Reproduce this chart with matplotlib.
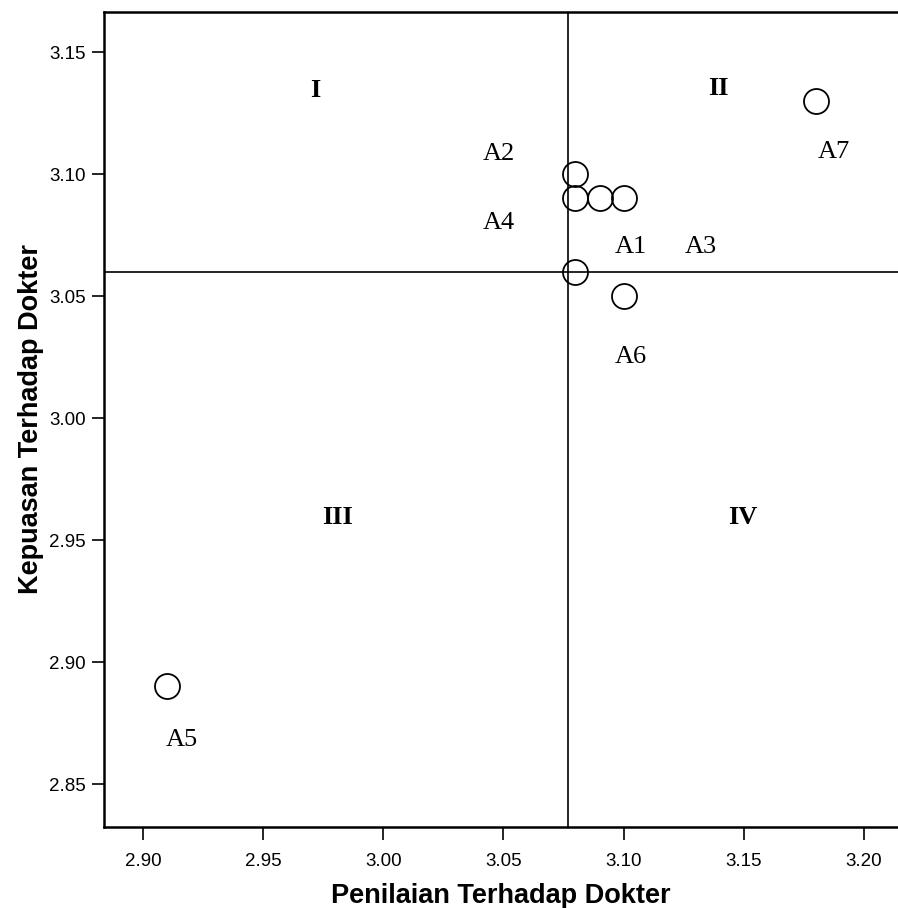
import numpy as np
import matplotlib.pyplot as plt

# points (Penilaian, Kepuasan)
px = [3.08, 3.08, 3.09, 3.10, 3.08, 3.10, 3.18, 2.91]
py = [3.10, 3.09, 3.09, 3.09, 3.06, 3.05, 3.13, 2.89]

# labels and where they sit
labels = ['A2', 'A4', 'A1', 'A3', 'A6', 'A7', 'A5']
label_x = [3.048, 3.048, 3.103, 3.132, 3.103, 3.1875, 2.916]
label_y = [3.108, 3.080, 3.070, 3.070, 3.025, 3.109, 2.868]

quadrants = ['I', 'II', 'III', 'IV']
quad_x = [2.9717, 3.1396, 2.9808, 3.1496]
quad_y = [3.1344, 3.1352, 2.9594, 2.9594]

mean_x = 3.077
mean_y = 3.06

xticks = [2.90, 2.95, 3.00, 3.05, 3.10, 3.15, 3.20]
yticks = [2.85, 2.90, 2.95, 3.00, 3.05, 3.10, 3.15]

fig = plt.figure(figsize=(8.98, 9.08), dpi=100)
ax = fig.add_axes([0.1158, 0.0892, 1 - 0.1158, 0.9868 - 0.0892])

ax.plot(px, py, linestyle='none', marker='o', markersize=18,
        markerfacecolor='none', markeredgecolor='black', markeredgewidth=1.3)

ax.axvline(mean_x, color='black', lw=1.2)
ax.axhline(mean_y, color='black', lw=1.2)

for t, x, y in zip(labels, label_x, label_y):
    ax.text(x, y, t, fontsize=19, family='Liberation Serif', ha='center', va='center')

for t, x, y in zip(quadrants, quad_x, quad_y):
    ax.text(x, y, t, fontsize=19, family='Liberation Serif', weight='bold',
            ha='center', va='center')

ax.set_xlim(2.8838, 3.2142)
ax.set_ylim(2.8324, 3.1664)
ax.set_xticks(xticks)
ax.set_yticks(yticks)
ax.set_xticklabels(['%.2f' % v for v in xticks])
ax.set_yticklabels(['%.2f' % v for v in yticks])
ax.tick_params(direction='out', length=9, width=1.2, labelsize=13.5)
ax.tick_params(axis='x', pad=10)
ax.tick_params(axis='y', pad=4)
for lab in ax.get_xticklabels() + ax.get_yticklabels():
    lab.set_family('Liberation Sans')

ax.spines['right'].set_visible(False)
for s in ['left', 'bottom', 'top']:
    ax.spines[s].set_linewidth(1.8)

ax.set_xlabel('Penilaian Terhadap Dokter', fontsize=19.5, weight='bold',
              family='Liberation Sans', labelpad=9)
ax.set_ylabel('Kepuasan Terhadap Dokter', fontsize=19.5, weight='bold',
              family='Liberation Sans', labelpad=4)

plt.savefig('out.png', dpi=100)
